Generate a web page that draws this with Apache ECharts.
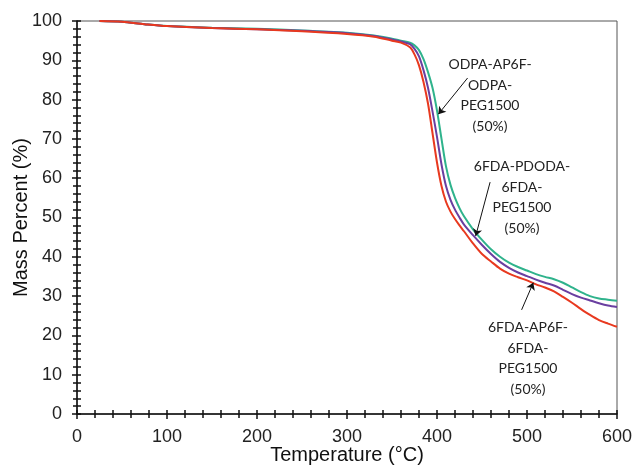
<!DOCTYPE html>
<html>
<head>
<meta charset="utf-8">
<script src="https://cdn.jsdelivr.net/npm/echarts@6/dist/echarts.min.js"></script>
<style>
  html,body{margin:0;padding:0;background:#fff;}
  #chart{width:634px;height:468px;}
</style>
</head>
<body>
<div id="chart"></div>
<script>
// temperature grid (°C)
const temps = [25, 50, 75, 100, 150, 200, 250, 300, 330, 350, 360, 370, 375, 380, 385, 390, 395, 400, 405, 410, 415, 420, 425, 430, 440, 450, 460, 470, 480, 490, 500, 510, 520, 530, 540, 550, 560, 570, 580, 590, 600]

// mass percent
const odpaAp6f = [100, 99.8, 99.2, 98.7, 98.3, 98.0, 97.6, 97.0, 96.3, 95.5, 95.0, 94.5, 93.8, 92.6, 90.3, 87.0, 83.0, 77.2, 70.0, 63.0, 58.3, 55.0, 52.4, 50.3, 47.0, 44.3, 41.9, 40.0, 38.5, 37.4, 36.5, 35.6, 34.9, 34.3, 33.4, 32.2, 31.0, 30.0, 29.4, 29.1, 28.8]
const pdoda = [100, 99.8, 99.2, 98.7, 98.2, 97.9, 97.5, 96.9, 96.2, 95.3, 94.8, 94.1, 92.9, 91.0, 87.5, 83.0, 77.0, 70.5, 63.5, 58.0, 54.5, 52.0, 50.0, 48.2, 45.5, 43.0, 40.7, 38.7, 37.2, 36.0, 35.1, 34.2, 33.4, 32.7, 31.6, 30.5, 29.6, 28.9, 28.2, 27.6, 27.2]
const ap6f6fda = [100, 99.8, 99.2, 98.7, 98.2, 97.9, 97.4, 96.7, 96.0, 95.0, 94.5, 93.3, 91.5, 88.7, 84.5, 79.0, 71.5, 64.0, 58.0, 54.0, 51.5, 49.6, 48.0, 46.5, 43.4, 40.7, 38.8, 37.0, 35.7, 34.8, 34.0, 33.0, 32.2, 31.2, 29.8, 28.3, 26.7, 25.2, 23.9, 23.0, 22.2]

const pair = (ys) => temps.map((t, i) => [t, ys[i]])

let myChart = echarts.init(document.getElementById("chart"))

const axisFont = { fontFamily: "Liberation Sans", fontSize: 18, color: "#222" }

// main axis draws line, labels and outside ticks; the twin draws inside ticks so they cross
function xAx(main) {
  return {
    type: "value", min: 0, max: 600, interval: 100,
    position: "bottom",
    name: main ? "Temperature (°C)" : "",
    nameLocation: "middle", nameGap: 31, nameMoveOverlap: false,
    nameTextStyle: { fontFamily: "Liberation Sans", fontSize: 20, color: "#111" },
    axisLine: { show: main, onZero: false, lineStyle: { color: "#111", width: 1.5 } },
    axisTick: { show: true, inside: !main, length: main ? 5 : 4, lineStyle: { color: "#111", width: 1.5 } },
    minorTick: { show: true, splitNumber: 5, length: 4, lineStyle: { color: "#111", width: 1.5 } },
    axisLabel: Object.assign({ show: main, margin: 14 }, axisFont),
    splitLine: { show: false }
  }
}
function yAx(main) {
  return {
    type: "value", min: 0, max: 100, interval: 10,
    position: "left",
    name: main ? "Mass Percent (%)" : "",
    nameLocation: "middle", nameGap: 46, nameMoveOverlap: false,
    nameTextStyle: { fontFamily: "Liberation Sans", fontSize: 20, color: "#111" },
    axisLine: { show: main, onZero: false, lineStyle: { color: "#111", width: 1.5 } },
    axisTick: { show: true, inside: !main, length: main ? 5 : 4, lineStyle: { color: "#111", width: 1.5 } },
    minorTick: { show: true, splitNumber: 5, length: 4, lineStyle: { color: "#111", width: 1.5 } },
    axisLabel: Object.assign({ show: main, margin: 15 }, axisFont),
    splitLine: { show: false }
  }
}

const arrow = (from, to) => ({
  symbol: ["none", "arrow"], symbolSize: 7, silent: true,
  label: { show: false },
  lineStyle: { color: "#111", width: 1, type: "solid" },
  data: [[{ coord: from }, { coord: to }]]
})

const lbl = { fontFamily: "Lato", fontSize: 14, fill: "#222", textAlign: "center", lineHeight: 20.7 }

myChart.setOption({
  animation: false,
  grid: { left: 77, right: 17, top: 21, bottom: 54, show: true, borderColor: "#555", borderWidth: 1, outerBoundsMode: "none" },
  xAxis: [xAx(true), xAx(false)],
  yAxis: [yAx(true), yAx(false)],
  series: [
    {
      type: "line", data: pair(odpaAp6f), showSymbol: false, smooth: 0.3,
      lineStyle: { color: "#2fb38c", width: 2 }, itemStyle: { color: "#2fb38c" },
      markLine: arrow([434, 85.5], [401.5, 76.3])
    },
    {
      type: "line", data: pair(pdoda), showSymbol: false, smooth: 0.3,
      lineStyle: { color: "#6a3fa0", width: 2 }, itemStyle: { color: "#6a3fa0" },
      markLine: arrow([459, 59], [443, 45.3])
    },
    {
      type: "line", data: pair(ap6f6fda), showSymbol: false, smooth: 0.3,
      lineStyle: { color: "#e8391f", width: 2 }, itemStyle: { color: "#e8391f" },
      markLine: arrow([494, 26.5], [507, 33.4])
    }
  ],
  graphic: [
    { type: "text", x: 490, y: 54, style: Object.assign({ text: "ODPA-AP6F-\nODPA-\nPEG1500\n(50%)" }, lbl) },
    { type: "text", x: 522, y: 156, style: Object.assign({ text: "6FDA-PDODA-\n6FDA-\nPEG1500\n(50%)" }, lbl) },
    { type: "text", x: 528, y: 317, style: Object.assign({ text: "6FDA-AP6F-\n6FDA-\nPEG1500\n(50%)" }, lbl) }
  ]
})
</script>
</body>
</html>
